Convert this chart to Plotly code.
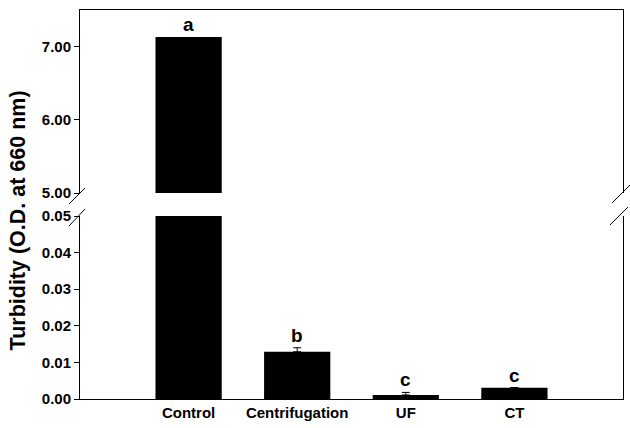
import plotly.graph_objects as go

categories = ["Control", "Centrifugation", "UF", "CT"]
turbidity = [7.13, 0.0129, 0.0011, 0.0031]
err_plus = [0.0, 0.0011, 0.0007, 0.0]
letters = ["a", "b", "c", "c"]
lower_ticks = [0.00, 0.01, 0.02, 0.03, 0.04, 0.05]
upper_ticks = [5.0, 6.0, 7.0]

W, H = 630, 428
ML, MR, MT, MB = 80, 7, 10, 29
PW, PH = W - ML - MR, H - MT - MB

def px(x, y):
    return (x - ML) / PW, (H - MB - y) / PH

upper_dom = [(H - MB - 193) / PH, 1.0]
lower_dom = [0.0, (H - MB - 216) / PH]

bold = dict(family="Liberation Sans, Arial", size=15, color="black", weight="bold")

fig = go.Figure()
fig.add_trace(go.Bar(
    x=categories, y=turbidity, xaxis="x", yaxis="y",
    marker=dict(color="black", line=dict(width=0)), width=0.61,
    error_y=dict(type="data", symmetric=False, array=err_plus,
                 arrayminus=[0] * len(err_plus), color="black", thickness=1, width=4),
    showlegend=False, hoverinfo="skip",
))
fig.add_trace(go.Bar(
    x=categories, y=turbidity, xaxis="x2", yaxis="y2",
    marker=dict(color="black", line=dict(width=0)), width=0.61,
    showlegend=False, hoverinfo="skip",
))

annotations = []
for i, (c, v, e, l) in enumerate(zip(categories, turbidity, err_plus, letters)):
    top = v + e
    annotations.append(dict(
        x=c, y=top, xref="x2" if i == 0 else "x", yref="y2" if i == 0 else "y",
        text=l, showarrow=False, yanchor="bottom", yshift=0,
        font=dict(family="Liberation Sans, Arial", size=19, color="black", weight="bold"),
    ))

annotations.append(dict(
    x=-0.115, y=0.458, xref="paper", yref="paper", text="Turbidity (O.D. at 660 nm)",
    showarrow=False, textangle=-90, xanchor="center", yanchor="middle",
    font=dict(family="Liberation Sans, Arial", size=21.5, color="black", weight="bold"),
))

shapes = []
for (x0, y0, x1, y1) in [(69, 204, 85, 188), (69, 226, 85, 209),
                         (612, 203, 630, 185), (610, 225, 628, 207)]:
    a0, b0 = px(x0, y0)
    a1, b1 = px(x1, y1)
    shapes.append(dict(type="line", xref="paper", yref="paper",
                       x0=a0, y0=b0, x1=a1, y1=b1,
                       line=dict(color="black", width=1)))

fig.update_layout(
    width=W, height=H,
    margin=dict(l=ML, r=MR, t=MT, b=MB, pad=0, autoexpand=False),
    paper_bgcolor="white", plot_bgcolor="white",
    xaxis=dict(domain=[0, 1], range=[-1, 4], anchor="y", showline=True, linecolor="black",
               linewidth=1, ticks="", tickfont=bold, showgrid=False, zeroline=False,
               automargin=False, categoryorder="array", categoryarray=categories),
    xaxis2=dict(domain=[0, 1], range=[-1, 4], anchor="y2", matches="x", side="top",
                showline=True, linecolor="black", linewidth=1, ticks="", automargin=False,
                showticklabels=False, showgrid=False, zeroline=False),
    yaxis=dict(domain=lower_dom, range=[0, 0.05], anchor="x", showline=True,
               linecolor="black", linewidth=1, mirror=True, ticks="outside", ticklen=5,
               tickcolor="black", tickvals=lower_ticks, automargin=False,
               ticktext=[f"{t:.2f}" for t in lower_ticks], tickfont=bold,
               showgrid=False, zeroline=False),
    yaxis2=dict(domain=upper_dom, range=[5, 7.5], anchor="x2", showline=True,
                linecolor="black", linewidth=1, mirror=True, ticks="outside", ticklen=5,
                tickcolor="black", tickvals=upper_ticks, automargin=False,
                ticktext=[f"{t:.2f}" for t in upper_ticks], tickfont=bold,
                showgrid=False, zeroline=False),
    annotations=annotations,
    shapes=shapes,
)

fig.write_html("out.html", config={"displayModeBar": False},
               post_script="document.body.style.margin='0';document.body.style.overflow='hidden';")
